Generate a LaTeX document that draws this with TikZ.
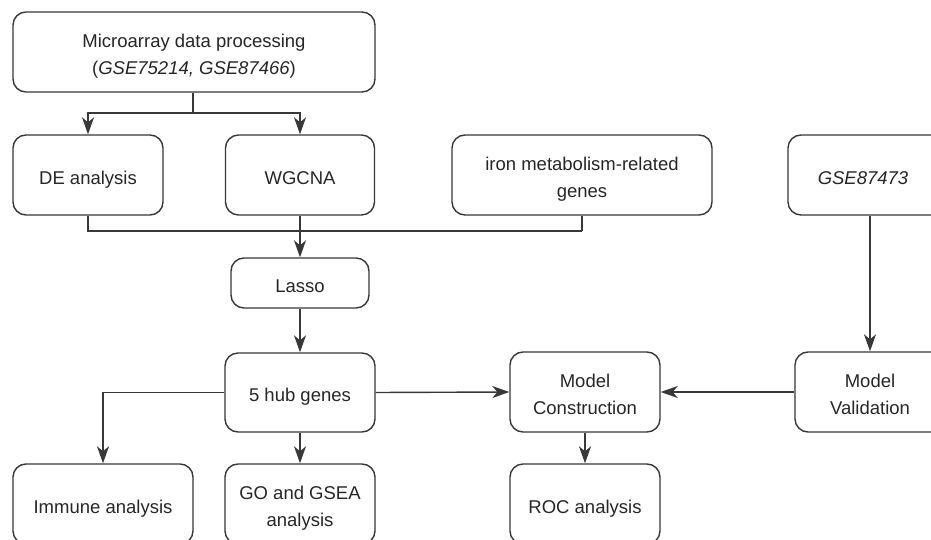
\documentclass[tikz,border=0pt]{standalone}
\usepackage{fontspec}
\setmainfont{Liberation Sans}
\usetikzlibrary{arrows.meta}
\definecolor{ln}{HTML}{383838}
\definecolor{tx}{HTML}{262626}
\newcommand\bxt[1]{\raisebox{-4pt}[\height][\depth]{\begin{tabular}{@{}c@{}}#1\end{tabular}}}
\tikzset{
  box/.style={draw=ln, line width=1.4pt, rounded corners=13pt,
    text=tx, inner sep=0pt, font=\fontsize{18.5}{27}\selectfont},
  conn/.style={draw=ln, line width=1.4pt},
  arr/.style={conn, -{Stealth[length=17pt,width=12pt,inset=5pt]}}
}
\begin{document}
\begin{tikzpicture}[x=1pt,y=-1pt]
\useasboundingbox (0,0) rectangle (931,540);
\node[box, minimum width=362pt, minimum height=80pt] (top) at (194,52) {\bxt{Microarray data processing\\(\textit{GSE75214, GSE87466})}};
\node[box, minimum width=150pt, minimum height=80pt] (de) at (88,175) {\bxt{DE analysis}};
\node[box, minimum width=149pt, minimum height=80pt] (wg) at (300,175) {\bxt{WGCNA}};
\node[box, minimum width=260pt, minimum height=80pt] (iron) at (582,175) {\bxt{iron metabolism-related\\genes}};
\node[box, minimum width=160pt, minimum height=80pt] (gse) at (868,175) {\bxt{\hspace*{-10pt}\textit{GSE87473}}};
\node[box, minimum width=138pt, minimum height=50pt] (lasso) at (300,283) {\bxt{Lasso}};
\node[box, minimum width=150pt, minimum height=79pt] (hub) at (300,392.5) {\bxt{5 hub genes}};
\node[box, minimum width=150pt, minimum height=80pt] (mc) at (585,392) {\bxt{Model\\Construction}};
\node[box, minimum width=150pt, minimum height=80pt] (mv) at (870,392) {\bxt{Model\\Validation}};
\node[box, minimum width=180pt, minimum height=80pt] (imm) at (103,504) {\bxt{Immune analysis}};
\node[box, minimum width=150pt, minimum height=80pt] (go) at (300,504) {\bxt{GO and GSEA\\analysis}};
\node[box, minimum width=150pt, minimum height=80pt] (roc) at (585,504) {\bxt{ROC analysis}};

\coordinate (j1) at (193,113);
\coordinate (j3) at (582,231);
\draw[conn] (top.south -| j1) -- (j1);
\draw[arr] (j1) -| (de.north);
\draw[arr] (j1) -| (wg.north);
\draw[conn] (de.south) |- (j3);
\draw[conn] (iron.south) -- (j3);
\draw[arr] (wg.south) -- (lasso.north);
\draw[arr] (lasso.south) -- (hub.north);
\draw[arr] (hub.west) -| (imm.north);
\draw[arr] (hub.south) -- (go.north);
\draw[arr] (hub.east) -- (mc.west);
\draw[arr] (mv.west) -- (mc.east);
\draw[arr] (gse.south -| mv.north) -- (mv.north);
\draw[arr] (mc.south) -- (roc.north);
\end{tikzpicture}
\end{document}
